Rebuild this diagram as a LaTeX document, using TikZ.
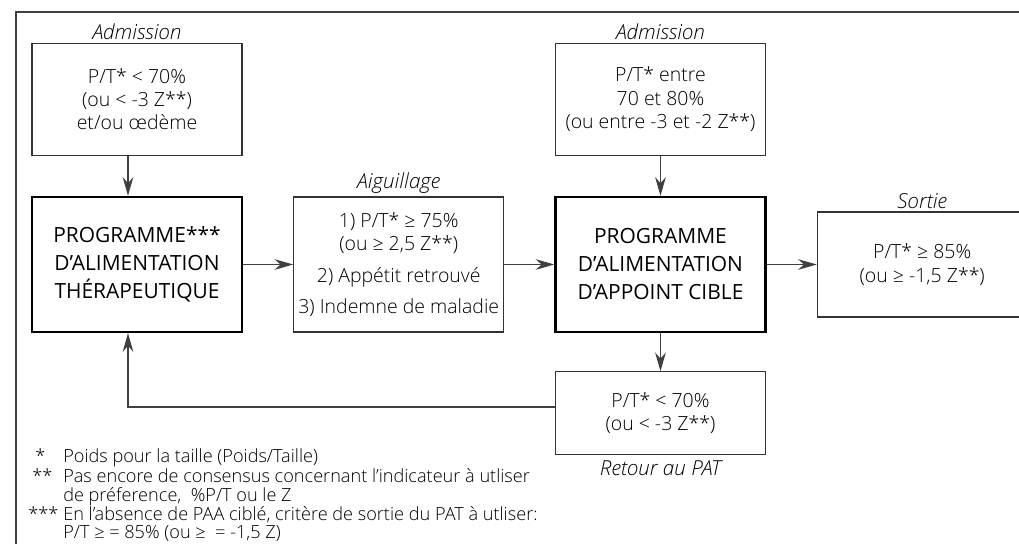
\documentclass[tikz,border=0pt]{standalone}
\usepackage{fontspec}
\setmainfont{Open Sans}
\newfontfamily\lightfont{Open Sans Light}
\usetikzlibrary{positioning, arrows.meta}
\tikzstyle{block} = [draw=black!80, rectangle, line width=0.8pt, minimum width=157.5pt, minimum height=84pt, align=center, inner sep=0pt, font=\lightfont\fontsize{14.6}{17.5}\selectfont]
\tikzstyle{prog} = [block, draw=black, line width=1.8pt, minimum height=101.25pt, font=\fontsize{15.7}{21}\selectfont]
\tikzstyle{tag} = [font=\lightfont\itshape\fontsize{15.5}{17}\selectfont, inner sep=1pt]
\tikzstyle{note} = [anchor=base west, inner sep=0pt, font=\lightfont\fontsize{13.6}{15}\selectfont]
\tikzstyle{line} = [draw=black!75, line width=0.9pt]

\begin{document}
\begin{tikzpicture}[x=0.75pt, y=-0.75pt, >={Stealth[length=14pt, width=8pt]}]
        \clip (0,0) rectangle (1019,543);
        % cadre
        \draw [line, line width=1.3pt] (16,560) |- (1040,12);
        % programme therapeutique
        \node [prog] (pat) at (137,264.5) {PROGRAMME***\\D’ALIMENTATION\\THÉRAPEUTIQUE};
        % admission au PAT
        \node [block, above=30pt of pat] (adm1) {P/T* < 70\%\\(ou < -3 Z**)\\et/ou œdème};
        \node [tag, above=1pt of adm1] (tadm1) {Admission};
        % aiguillage
        \node [block, right=37.5pt of pat, minimum height=101.25pt] (aig) {1) P/T* ≥ 75\%\\(ou ≥ 2,5 Z**)\\[6pt]2) Appétit retrouvé\\[6pt]3) Indemne de maladie};
        \node [tag, above=1pt of aig] (taig) {Aiguillage};
        % programme d'appoint
        \node [prog, right=37.5pt of aig] (paa) {PROGRAMME\\D’ALIMENTATION\\D’APPOINT CIBLE};
        \node [block, above=30pt of paa] (adm2) {P/T* entre\\70 et 80\%\\(ou entre -3 et -2 Z**)};
        \node [tag, above=1pt of adm2] (tadm2) {Admission};
        % sortie
        \node [block, right=37.5pt of paa, minimum height=78.75pt] (sortie) {P/T* ≥ 85\%\\(ou ≥ -1,5 Z**)};
        \node [tag, above=1pt of sortie] (tsortie) {Sortie};
        % retour au PAT
        \node [block, below=28.5pt of paa, minimum height=62.25pt] (retour) {P/T* < 70\%\\(ou < -3 Z**)};
        \node [tag, below=3pt of retour] (tretour) {Retour au PAT};
        % connexions
        \coordinate (fb) at (128,407);
        \draw [line, ->] (adm1.south -| fb) -- (pat.north -| fb);
        \draw [line, ->] (pat) -- (aig);
        \draw [line, ->] (aig) -- (paa);
        \draw [line, ->] (adm2) -- (paa);
        \draw [line, ->] (paa) -- (sortie);
        \draw [line, ->] (paa) -- (retour);
        \draw [line, ->] (retour.west |- fb) -- (fb) -- (pat.south -| fb);
        % notes
        \node [note] (s1) at (35,462) {*};
        \node [note] (n1) at (63,462) {Poids pour la taille (Poids/Taille)};
        \node [note] (s2) at (32,482) {**};
        \node [note] (n2) at (63,482) {Pas encore de consensus concernant l’indicateur à utliser};
        \node [note] (n2b) at (63,501) {de préference,~ \%P/T ou le Z};
        \node [note] (s3) at (28,520) {***};
        \node [note] (n3) at (63,520) {En l’absence de PAA ciblé, critère de sortie du PAT à utliser:};
        \node [note] (n3b) at (63,538) {P/T ≥ = 85\% (ou ≥ ~= -1,5 Z)};
\end{tikzpicture}
\end{document}
